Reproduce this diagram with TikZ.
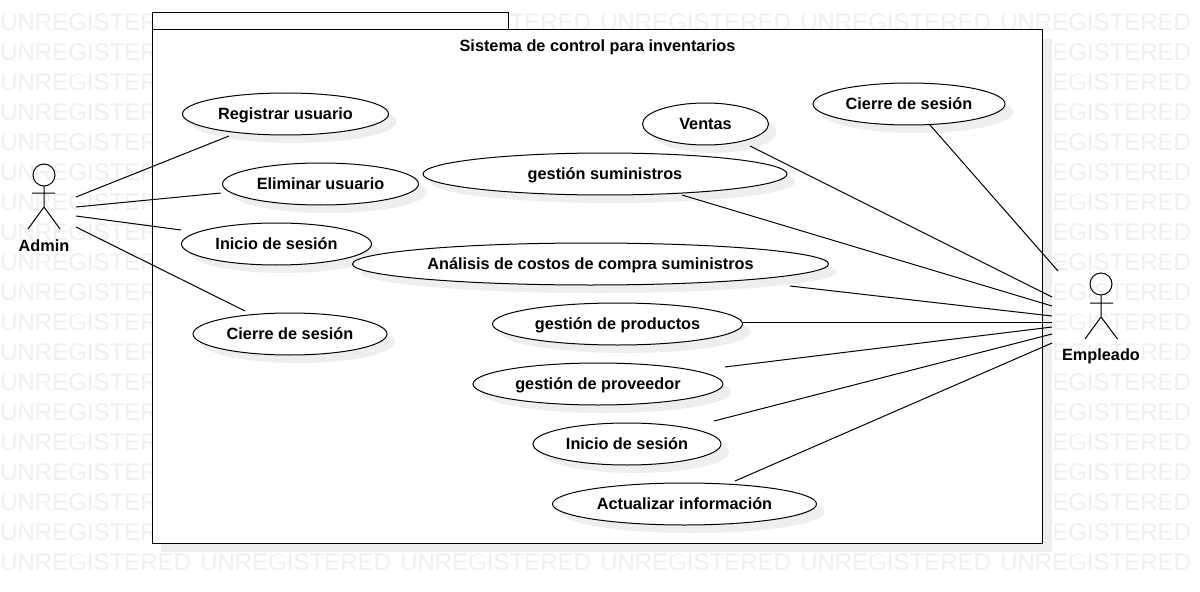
\documentclass[tikz,border=0pt]{standalone}
\usepackage{fontspec}
\setmainfont{Liberation Sans}
\usetikzlibrary{shapes.geometric,shadows}
\definecolor{wmgray}{HTML}{F0F0F0}
\definecolor{shgray}{HTML}{EEEEEE}
\tikzset{
  x=0.75pt,y=-0.75pt,
  wmark/.style={anchor=west,inner sep=0pt,text=wmgray,font=\fontsize{18}{18}\selectfont},
  pkg/.style={draw=black,fill=white,line width=0.75pt},
  usecase/.style={ellipse,draw=black,fill=white,line width=0.75pt,inner sep=0pt,minimum height=31.5pt,
    text height=10pt,text depth=1.2pt,
    font=\fontsize{12.2}{13}\bfseries\selectfont,
    drop shadow={shadow xshift=6pt,shadow yshift=-6pt,fill=shgray,opacity=1}},
  lbl/.style={inner sep=0pt,text height=10pt,text depth=1.2pt,font=\fontsize{12.2}{13}\bfseries\selectfont},
  link/.style={draw=black,line width=0.75pt},
  stick/.style={draw=black,line width=0.75pt},
}
\begin{document}
\begin{tikzpicture}
\useasboundingbox (0,0) rectangle (1200,592);
\fill[white] (0,0) rectangle (1200,592);
% watermark
\foreach \r in {0,...,18}{
  \foreach \c in {0,...,5}{
    \node[wmark] (wm-\r-\c) at ({\c*200},{22+\r*30}) {UNREGISTERED};
  }
}
% package
\fill[shgray] (161,39) rectangle (1052,552);
\draw[pkg] (152,13) rectangle (508,30);
\draw[pkg] (152,30) rectangle (1042,543);
\node[lbl] (title) at (597.5,46) {Sistema de control para inventarios};
% use cases
\node[usecase,minimum width=154.5pt] (reg) at (285.5,114) {Registrar usuario};
\node[usecase,minimum width=147pt] (eli) at (320.5,184) {Eliminar usuario};
\node[usecase,minimum width=142.5pt] (ini) at (276.5,244) {Inicio de sesión};
\node[usecase,minimum width=145.5pt] (cie) at (290,334) {Cierre de sesión};
\node[usecase,minimum width=94.5pt] (ven) at (705.5,124) {Ventas};
\node[usecase,minimum width=144pt] (cie2) at (909,104) {Cierre de sesión};
\node[usecase,minimum width=273pt] (sum) at (605,174) {gestión suministros};
\node[usecase,minimum width=357pt] (ana) at (590.5,264) {Análisis de costos de compra suministros};
\node[usecase,minimum width=187.5pt] (pro) at (617.5,324) {gestión de productos};
\node[usecase,minimum width=187.5pt] (prv) at (598,384) {gestión de proveedor};
\node[usecase,minimum width=141pt] (ini2) at (627,444) {Inicio de sesión};
\node[usecase,minimum width=198pt] (act) at (684.5,504) {Actualizar información};
% Admin actor
\draw[stick] (44,175) circle (11);
\draw[stick] (44,186) -- (44,207) (32,193) -- (55,193) (28,229) -- (44,207) -- (60,229);
\node[lbl] (admin) at (44,246) {Admin};
% Empleado actor
\draw[stick] (1101,284) circle (11);
\draw[stick] (1101,295) -- (1101,317) (1090,303) -- (1113,303) (1085,339) -- (1101,317) -- (1117.5,339);
\node[lbl] (emp) at (1101,355) {Empleado};
% connector ends
\coordinate (a1) at (76,197); \coordinate (a1e) at (229,136);
\coordinate (a2) at (76,207); \coordinate (a2e) at (221,193);
\coordinate (a3) at (76,216); \coordinate (a3e) at (181,230);
\coordinate (a4) at (76,227); \coordinate (a4e) at (245,311);
\draw[link] (a1) -- (a1e);
\draw[link] (a2) -- (a2e);
\draw[link] (a3) -- (a3e);
\draw[link] (a4) -- (a4e);
\coordinate (e1) at (750,146); \coordinate (e1e) at (1052,297);
\coordinate (e2) at (930,125); \coordinate (e2e) at (1058,271);
\coordinate (e3) at (682,195); \coordinate (e3e) at (1052,306);
\coordinate (e4) at (790,286); \coordinate (e4e) at (1052,316);
\coordinate (e5) at (743,322); \coordinate (e5e) at (1052,322);
\coordinate (e6) at (725,367); \coordinate (e6e) at (1052,327);
\coordinate (e7) at (714,421); \coordinate (e7e) at (1052,334);
\coordinate (e8) at (735,481); \coordinate (e8e) at (1052,343);
\foreach \k in {1,...,8}{ \draw[link] (e\k) -- (e\k e); }
\end{tikzpicture}
\end{document}
